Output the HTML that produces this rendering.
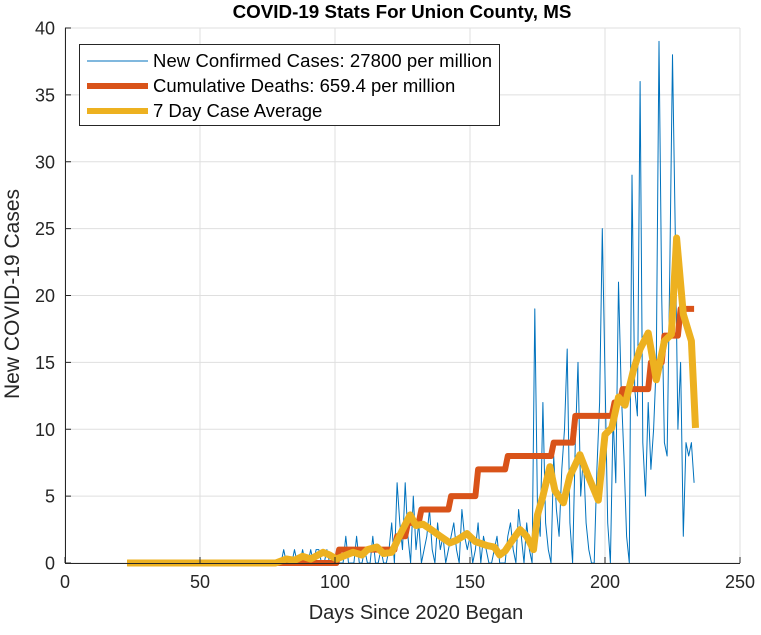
<!DOCTYPE html>
<html><head><meta charset="utf-8"><style>
body{margin:0;background:#fff;font-family:"Liberation Sans",Arial,sans-serif}
svg text{font-family:"Liberation Sans",Arial,sans-serif}
</style></head><body>
<svg id="chart" width="761" height="630" xmlns="http://www.w3.org/2000/svg">
<rect width="761" height="630" fill="#fff"/>
<g id="grid"></g><g id="series"></g><g id="axes"></g>
<text x="402" y="18" text-anchor="middle" font-size="18.8" font-weight="bold" fill="#000">COVID-19 Stats For Union County, MS</text>
<text x="416" y="619" text-anchor="middle" font-size="20" fill="#262626">Days Since 2020 Began</text>
<text transform="translate(19,294) rotate(-90)" text-anchor="middle" font-size="21" fill="#262626">New COVID-19 Cases</text>
<g>
<rect x="79.5" y="44.5" width="420" height="81" fill="#fff" stroke="#262626" stroke-width="1"/>
<line x1="87" y1="61" x2="148" y2="61" stroke="#0072BD" stroke-width="1"/>
<text x="153" y="67" font-size="18.5" textLength="339" fill="#000">New Confirmed Cases: 27800 per million</text>
<line x1="87" y1="86" x2="148" y2="86" stroke="#D95319" stroke-width="6"/>
<text x="153" y="92" font-size="18.5" fill="#000">Cumulative Deaths: 659.4 per million</text>
<line x1="87" y1="111" x2="148" y2="111" stroke="#EDB120" stroke-width="6"/>
<text x="153" y="117" font-size="18.5" fill="#000">7 Day Case Average</text>
</g>
</svg>
<script>
const xTicks=[0,50,100,150,200,250];
const yTicks=[0,5,10,15,20,25,30,35,40];
const caseStartDay=23;
const caseValues=[
0,0,0,0,0,0,0,0,0,0,0,0,0,0,0,0,0,0,0,0,0,0,0,0,0,0,0,0,0,0,0,0,0,0,0,0,0,0,0,0,0,0,0,0,0,0,0,0,0,0,0,0,0,0,0,0,0,
0,1,0,0,0,1,0,0,1,0,0,1,0,1,1,0,0,1,0,0,
0,0,0,0,2,0,0,0,2,0,0,1,0,0,2,0,0,1,0,0,
1,3,0,6,3,1,6,2,0,5,1,3,0,1,2,4,1,0,3,1,
2,0,1,2,3,1,0,4,2,1,2,0,1,3,0,2,1,0,0,1,
2,0,0,0,2,3,1,0,4,2,0,3,1,0,19,4,2,12,3,1,
0,8,4,2,7,10,16,3,0,9,15,5,8,3,1,0,0,7,12,25,
14,3,0,11,6,21,13,8,2,0,29,13,11,36,9,5,12,7,10,15,
39,20,9,8,22,38,25,10,15,2,9,8,9,6];
const avgDays=[23,78,82,85,88,91,95.6,98,100.5,103,106.7,110,112,115.5,118,121,124.8,127.8,130,132.6,136.3,139,142.6,145,148.9,152,156.3,159,161,163,165,168.5,171,173.5,175,177,179.6,181.5,184.6,187,190.7,193.8,197.5,200,202.5,205,207.4,210.5,213,216,219,222,224.6,226.5,229,232,233.5];
const avgValues=[0,0,0.3,0.2,0.5,0.3,0.8,0.6,0.3,0.5,0.8,0.6,1.0,1.2,0.7,0.8,2.4,3.6,2.8,2.9,2.4,2.0,1.5,1.7,2.2,1.6,1.3,1.2,0.6,0.9,1.5,2.5,2.0,1,3.6,5.0,7.2,5.4,4.5,6.5,8.1,6.5,4.7,9.6,10.1,12.4,11.8,14.4,16,17.2,13.7,16.6,17.1,24.3,18.6,16.6,10.1];
const deathChangeDays=[23,101,122.5,126.5,131.5,142.5,152.5,163.5,180.5,188.5,203,206,216.5,221.5,227.5];
const deathLevels=[0,1,2,3,4,5,7,8,9,11,12,13,15,17,19];
const deathEndDay=233;

const X=d=>65+d*2.7, Y=v=>563-v*13.375;
const NS="http://www.w3.org/2000/svg";
const mk=(t,a,p)=>{const e=document.createElementNS(NS,t);for(const k in a)e.setAttribute(k,a[k]);p.appendChild(e);return e;};
const grid=document.getElementById('grid'),axes=document.getElementById('axes'),ser=document.getElementById('series');
xTicks.forEach(t=>{
 const g=mk('line',{x1:X(t),x2:X(t),y1:28,y2:563,stroke:'#dfdfdf','stroke-width':1},grid);
 
 
 const tk=mk('line',{x1:X(t),x2:X(t),y1:563,y2:557,stroke:'#262626'},axes);
 
 
 const l=mk('text',{x:X(t),y:588,'text-anchor':'middle','font-size':18,fill:'#262626'},axes);l.textContent=t;
 
 
});
yTicks.forEach(t=>{
 const g=mk('line',{x1:65,x2:740,y1:Y(t),y2:Y(t),stroke:'#dfdfdf','stroke-width':1},grid);
 
 
 const tk=mk('line',{x1:65,x2:71,y1:Y(t),y2:Y(t),stroke:'#262626'},axes);
 
 
 const l=mk('text',{x:55,y:Y(t)+6.5,'text-anchor':'end','font-size':18,fill:'#262626'},axes);l.textContent=t;
 
 
});
const xa=mk('line',{x1:65,x2:740,y1:563.5,y2:563.5,stroke:'#262626'},axes);


const ya=mk('line',{x1:65.5,x2:65.5,y1:28,y2:563,stroke:'#262626'},axes);



const cp=caseValues.map((v,i)=>X(caseStartDay+i).toFixed(1)+','+Y(v).toFixed(1)).join(' ');
const cl=mk('polyline',{points:cp,fill:'none',stroke:'#0072BD','stroke-width':1,'stroke-linejoin':'round'},ser);



let dp=[];
deathChangeDays.forEach((d,i)=>{
 if(i>0)dp.push([d-0.5,deathLevels[i-1]]);
 dp.push([i>0?d+0.5:d,deathLevels[i]]);
});
dp.push([deathEndDay,deathLevels[deathLevels.length-1]]);
const dl=mk('polyline',{points:dp.map(p=>X(p[0]).toFixed(1)+','+Y(p[1]).toFixed(1)).join(' '),fill:'none',stroke:'#D95319','stroke-width':6,'stroke-linejoin':'round'},ser);



const ap=avgDays.map((d,i)=>X(d).toFixed(1)+','+Y(avgValues[i]).toFixed(1)).join(' ');
const al=mk('polyline',{points:ap,fill:'none',stroke:'#EDB120','stroke-width':7,'stroke-linejoin':'round'},ser);


</script>
</body></html>
